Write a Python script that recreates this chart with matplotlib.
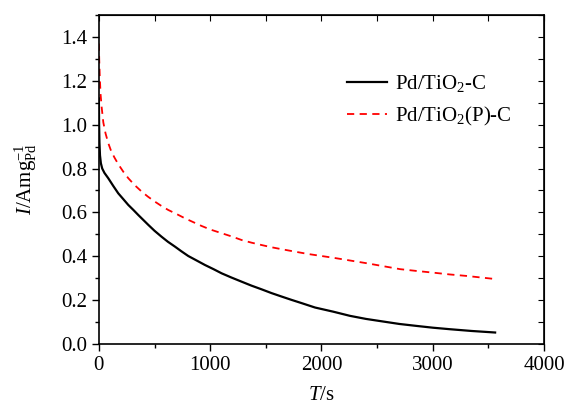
import matplotlib
matplotlib.use("Agg")
import matplotlib.pyplot as plt
from matplotlib.ticker import MultipleLocator, FormatStrFormatter

plt.rcParams['font.family'] = ['Liberation Serif', 'DejaVu Serif']
plt.rcParams['mathtext.fontset'] = 'custom'
plt.rcParams['mathtext.rm'] = 'Liberation Serif'
plt.rcParams['mathtext.it'] = 'Liberation Serif:italic'

# chronoamperometry curves
t_a = [0, 2, 5, 10, 18, 30, 50, 84, 130, 174, 220, 264, 310, 354, 400, 444,
       500, 563, 620, 683, 740, 803, 880, 953, 1030, 1103, 1190, 1282, 1370,
       1462, 1550, 1642, 1730, 1822, 1942, 2106, 2256, 2400, 2556, 2700, 2856,
       3000, 3155, 3350, 3560]
i_a = [1.12, 1.0, 0.92, 0.86, 0.824, 0.80, 0.78, 0.756, 0.72, 0.687, 0.66,
       0.634, 0.611, 0.588, 0.565, 0.543, 0.516, 0.489, 0.466, 0.444, 0.423,
       0.401, 0.38, 0.360, 0.341, 0.322, 0.303, 0.284, 0.266, 0.249, 0.232,
       0.216, 0.201, 0.186, 0.166, 0.147, 0.128, 0.114, 0.102, 0.091, 0.082,
       0.074, 0.067, 0.059, 0.052]

t_b = [0, 3, 8, 15, 25, 40, 60, 85, 110, 140, 174, 220, 264, 320, 384, 440,
       503, 560, 623, 700, 773, 850, 923, 1000, 1103, 1200, 1282, 1370, 1462,
       1550, 1642, 1760, 1882, 2000, 2106, 2250, 2406, 2550, 2706, 2850, 3005,
       3150, 3305, 3450, 3560]
i_b = [1.37, 1.30, 1.22, 1.14, 1.08, 1.01, 0.96, 0.915, 0.88, 0.85, 0.82,
       0.785, 0.756, 0.725, 0.695, 0.672, 0.649, 0.63, 0.611, 0.592, 0.573,
       0.555, 0.538, 0.522, 0.505, 0.489, 0.474, 0.462, 0.451, 0.441, 0.432,
       0.421, 0.410, 0.401, 0.393, 0.381, 0.368, 0.355, 0.341, 0.333, 0.325,
       0.317, 0.310, 0.302, 0.296]

labels = [r'Pd/TiO$_2$-C', r'Pd/TiO$_2$(P)-C']

fig = plt.figure(figsize=(5.65, 4.07), dpi=100)
ax = fig.add_axes([0.175, 0.155, 0.788, 0.808])

ax.plot(t_a, i_a, color='black', lw=1.6, label=labels[0])
ax.plot(t_b, i_b, color='red', lw=1.3, ls=(0, (4, 3)), label=labels[1])

ax.set_xlim(0, 4000)
ax.set_ylim(0, 1.5)
ax.xaxis.set_major_locator(MultipleLocator(1000))
ax.xaxis.set_minor_locator(MultipleLocator(500))
ax.yaxis.set_major_locator(MultipleLocator(0.2))
ax.yaxis.set_minor_locator(MultipleLocator(0.1))
ax.yaxis.set_major_formatter(FormatStrFormatter('%.1f'))

ax.tick_params(which='both', direction='out', labelsize=15, width=1)
ax.tick_params(which='major', length=5)
ax.tick_params(which='minor', length=3)

# mirrored ticks on top and right, pointing inwards
axt = ax.secondary_xaxis('top')
axt.xaxis.set_major_locator(MultipleLocator(500))
axt.tick_params(direction='in', length=4, labeltop=False)
axr = ax.secondary_yaxis('right')
axr.yaxis.set_major_locator(MultipleLocator(0.1))
axr.tick_params(direction='in', length=4, labelright=False)

for s in ax.spines.values():
    s.set_linewidth(1.2)

ax.set_xlabel(r'$\it{T}$/s', fontsize=15, labelpad=8)
ax.set_ylabel(r'$\it{I}$/Amg$^{-1}_{\rm Pd}$', fontsize=15, labelpad=16)

ax.legend(loc='upper right', bbox_to_anchor=(0.97, 0.88), frameon=False,
          fontsize=15, handlelength=1.9, handletextpad=0.4, labelspacing=0.5)

fig.savefig('out.png', dpi=100)
